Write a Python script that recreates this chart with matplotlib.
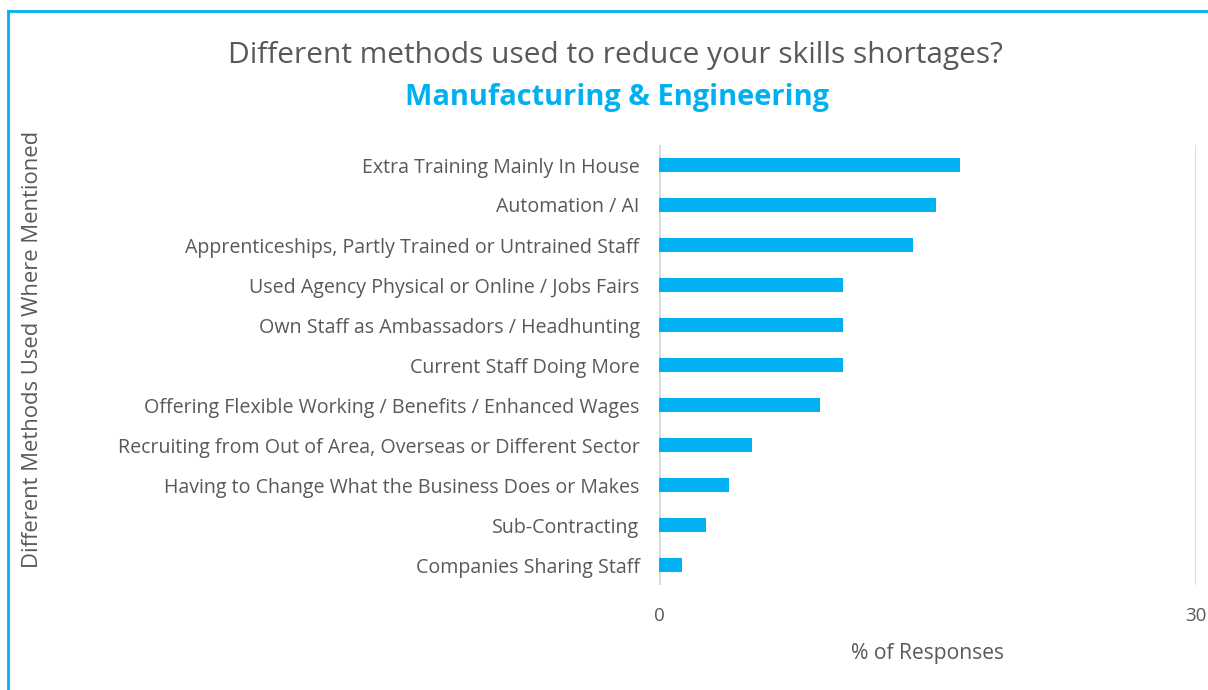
import matplotlib
matplotlib.use("Agg")
import matplotlib.pyplot as plt
from matplotlib.lines import Line2D

categories = [
    "Extra Training Mainly In House",
    "Automation / AI",
    "Apprenticeships, Partly Trained or Untrained Staff",
    "Used Agency Physical or Online / Jobs Fairs",
    "Own Staff as Ambassadors / Headhunting",
    "Current Staff Doing More",
    "Offering Flexible Working / Benefits / Enhanced Wages",
    "Recruiting from Out of Area, Overseas or Different Sector",
    "Having to Change What the Business Does or Makes",
    "Sub-Contracting",
    "Companies Sharing Staff",
]
values = [16.8, 15.5, 14.2, 10.3, 10.3, 10.3, 9.0, 5.2, 3.9, 2.6, 1.3]
x_ticks = [0, 30]

plt.rcParams['font.family'] = ['Open Sans', 'DejaVu Sans']
BLUE = "#00B0F0"
GRAY = "#595959"

fig = plt.figure(figsize=(12.08, 6.9), dpi=100)
ax = fig.add_axes([659/1208, 1-585/690, (1196-659)/1208, 440/690])

ypos = list(range(len(categories)))
ax.barh(ypos, values, height=0.35, color=BLUE, zorder=3)
ax.set_yticks(ypos)
ax.set_yticklabels(categories, fontsize=14.1, color=GRAY)
ax.set_ylim(len(categories) - 0.5, -0.5)
ax.set_xlim(0, 30)
ax.set_xticks(x_ticks)
ax.set_xticklabels([str(t) for t in x_ticks], fontsize=13.5, color=GRAY)
ax.tick_params(axis='both', length=0)
ax.tick_params(axis='y', pad=14)
ax.tick_params(axis='x', pad=16)
for s in ax.spines.values():
    s.set_visible(False)
ax.grid(axis='x', color="#D9D9D9", linewidth=2, zorder=0)
ax.set_xlabel("% of Responses", fontsize=15.2, color=GRAY, labelpad=13)

fig.text(33/1208, 1-349/690, "Different Methods Used Where Mentioned", rotation=90,
         ha='center', va='center', fontsize=15.8, color=GRAY)

fig.text(615/1208, 1-55/690, "Different methods used to reduce your skills shortages?",
         ha='center', va='center', fontsize=21.5, color=GRAY)
fig.text(617/1208, 1-97/690, "Manufacturing & Engineering",
         ha='center', va='center', fontsize=20.9, color=BLUE, fontweight='bold')

# border (top and left visible)
fig.add_artist(Line2D([8/1208, 1], [1-11/690, 1-11/690], transform=fig.transFigure,
                      color=BLUE, linewidth=2))
fig.add_artist(Line2D([8/1208, 8/1208], [0, 1-11/690], transform=fig.transFigure,
                      color=BLUE, linewidth=2))

fig.savefig("out.png", dpi=100)
